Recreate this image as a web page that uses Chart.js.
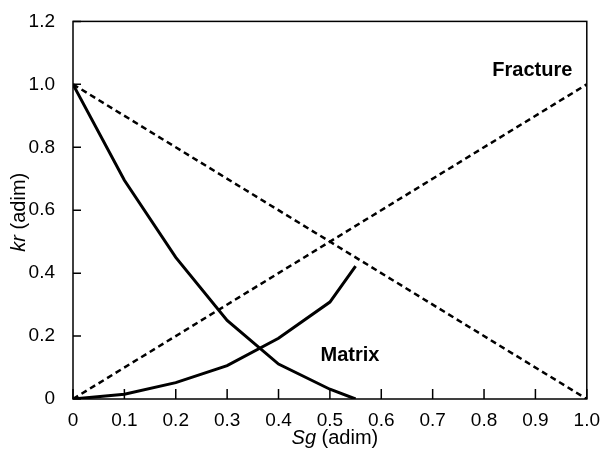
<!DOCTYPE html>
<html>
<head>
<meta charset="utf-8">
<script src="https://cdn.jsdelivr.net/npm/chart.js@4.4.1/dist/chart.umd.min.js"></script>
<style>
  html, body { margin: 0; padding: 0; background: #fff; }
  #wrap { width: 602px; height: 452px; }
</style>
</head>
<body>
<div id="wrap"><canvas id="kr"></canvas></div>
<script>
// relative permeability curves
const sgMatrix = [0, 0.1, 0.2, 0.3, 0.4, 0.5, 0.55];
const krgMatrix = [0, 0.015, 0.052, 0.106, 0.193, 0.308, 0.422];
const krwMatrix = [1.0, 0.695, 0.45, 0.25, 0.111, 0.031, 0];
const sgFracture = [0, 1.0];
const krgFracture = [0, 1.0];
const krwFracture = [1.0, 0];

const xTicks = [0, 0.1, 0.2, 0.3, 0.4, 0.5, 0.6, 0.7, 0.8, 0.9, 1.0];
const yTicks = [0, 0.2, 0.4, 0.6, 0.8, 1.0, 1.2];

const FONT = "'Liberation Sans', Arial, sans-serif";

function pts(xs, ys) {
    return xs.map((x, i) => ({ x: x, y: ys[i] }));
}

function line(data, dashed) {
    return {
        data: data,
        showLine: true,
        borderColor: '#000',
        borderWidth: dashed ? 2.5 : 3,
        borderDash: dashed ? [6, 4] : [],
        pointRadius: 0,
        tension: 0,
        fill: false
    };
}

// frame, inward ticks, axis titles and curve labels
const decorations = {
    id: 'decorations',
    afterDraw(chart) {
        const { ctx, chartArea: a, scales: { x, y } } = chart;
        ctx.save();
        ctx.strokeStyle = '#000';
        ctx.lineWidth = 1.5;
        ctx.strokeRect(a.left, a.top, a.right - a.left, a.bottom - a.top);

        ctx.beginPath();
        xTicks.forEach(v => {
            const px = x.getPixelForValue(v);
            ctx.moveTo(px, a.bottom);
            ctx.lineTo(px, a.bottom - 10);
        });
        yTicks.forEach(v => {
            const py = y.getPixelForValue(v);
            ctx.moveTo(a.left, py);
            ctx.lineTo(a.left + 8, py);
        });
        ctx.stroke();

        ctx.fillStyle = '#000';
        ctx.textBaseline = 'middle';

        // x title: italic Sg + (adim)
        const it = 'italic 20px ' + FONT, nm = '20px ' + FONT;
        ctx.font = it;
        const w1 = ctx.measureText('Sg').width;
        ctx.font = nm;
        const w2 = ctx.measureText(' (adim)').width;
        let sx = (a.left + a.right) / 2 + 5 - (w1 + w2) / 2;
        ctx.font = it;
        ctx.fillText('Sg', sx, 438);
        ctx.font = nm;
        ctx.fillText(' (adim)', sx + w1, 438);

        // y title, rotated
        ctx.save();
        ctx.translate(19, (a.top + a.bottom) / 2 + 2);
        ctx.rotate(-Math.PI / 2);
        ctx.font = it;
        const v1 = ctx.measureText('kr').width;
        ctx.font = nm;
        const v2 = ctx.measureText(' (adim)').width;
        ctx.font = it;
        ctx.fillText('kr', -(v1 + v2) / 2, 0);
        ctx.font = nm;
        ctx.fillText(' (adim)', -(v1 + v2) / 2 + v1, 0);
        ctx.restore();

        ctx.font = 'bold 20px ' + FONT;
        ctx.textAlign = 'center';
        ctx.fillText('Fracture', x.getPixelForValue(0.894), y.getPixelForValue(1.044));
        ctx.fillText('Matrix', x.getPixelForValue(0.539), y.getPixelForValue(0.137));
        ctx.restore();
    }
};

new Chart(document.getElementById('kr'), {
    type: 'scatter',
    data: {
        datasets: [
            line(pts(sgFracture, krgFracture), true),
            line(pts(sgFracture, krwFracture), true),
            line(pts(sgMatrix, krgMatrix), false),
            line(pts(sgMatrix, krwMatrix), false)
        ]
    },
    options: {
        responsive: true,
        maintainAspectRatio: false,
        animation: false,
        layout: { padding: { top: 21, right: 13, left: 0, bottom: 0 } },
        plugins: { legend: { display: false }, tooltip: { enabled: false } },
        scales: {
            x: {
                type: 'linear',
                min: 0,
                max: 1.0,
                afterBuildTicks: s => { s.ticks = xTicks.map(v => ({ value: v })); },
                afterFit: s => { s.height = 53; },
                grid: { display: false },
                border: { display: false },
                ticks: {
                    color: '#000',
                    font: { family: FONT, size: 19 },
                    padding: 2,
                    maxRotation: 0,
                    callback: v => (v === 0 ? '0' : v.toFixed(1))
                }
            },
            y: {
                type: 'linear',
                min: 0,
                max: 1.2,
                afterBuildTicks: s => { s.ticks = yTicks.map(v => ({ value: v })); },
                afterFit: s => { s.width = 73; },
                grid: { display: false },
                border: { display: false },
                ticks: {
                    color: '#000',
                    font: { family: FONT, size: 19 },
                    padding: 10,
                    callback: v => (v === 0 ? '0' : v.toFixed(1))
                }
            }
        }
    },
    plugins: [decorations]
});
</script>
</body>
</html>
